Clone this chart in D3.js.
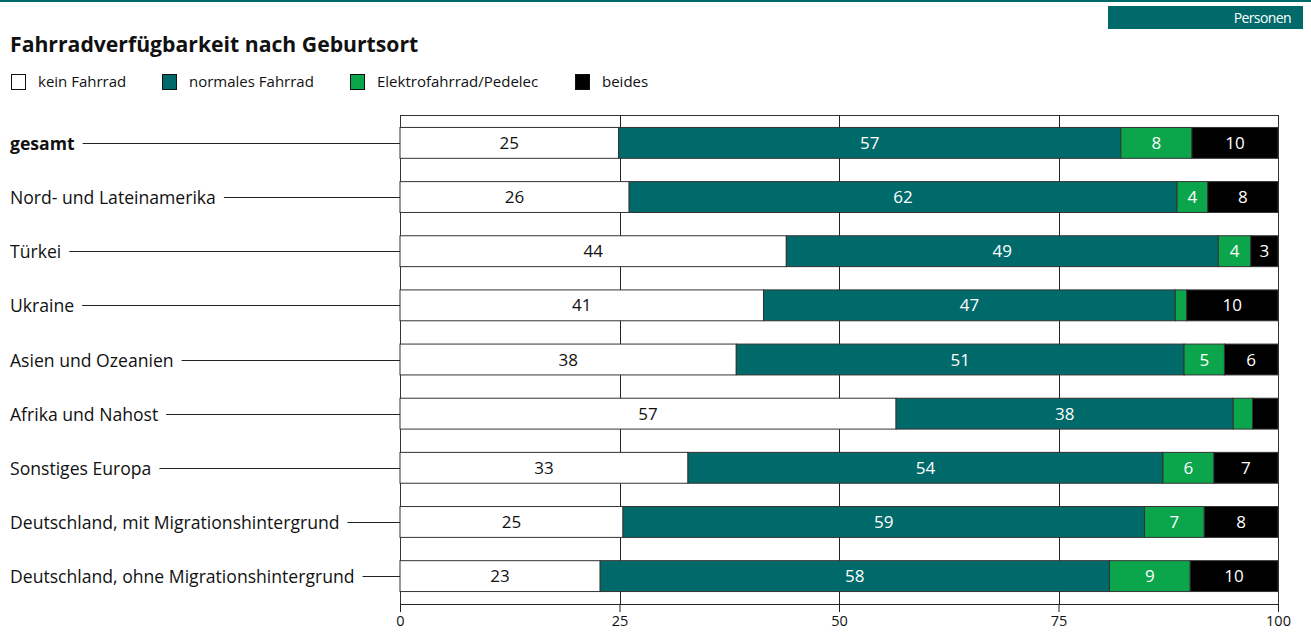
<!DOCTYPE html>
<html><head><meta charset="utf-8">
<script src="https://cdn.jsdelivr.net/npm/d3@7"></script>
<style>body{margin:0;background:#fff;}svg{display:block;font-family:"Open Sans",sans-serif;}</style>
</head><body>
<svg id="c" width="1311" height="634"></svg>
<script>
const categories = ["gesamt","Nord- und Lateinamerika","Türkei","Ukraine","Asien und Ozeanien","Afrika und Nahost","Sonstiges Europa","Deutschland, mit Migrationshintergrund","Deutschland, ohne Migrationshintergrund"];
const seriesNames = ["kein Fahrrad","normales Fahrrad","Elektrofahrrad/Pedelec","beides"];
const keinFahrrad = [24.9, 26.1, 44.0, 41.4, 38.3, 56.5, 32.8, 25.4, 22.8];
const normalesFahrrad = [57.2, 62.4, 49.2, 46.9, 51.0, 38.4, 54.1, 59.4, 58.0];
const elektro = [8.1, 3.5, 3.7, 1.3, 4.6, 2.2, 5.8, 6.8, 9.2];
const beides = [9.8, 8.0, 3.1, 10.4, 6.1, 2.9, 7.3, 8.4, 10.0];
const tickValues = [0, 25, 50, 75, 100];
const colors = ["#ffffff", "#006a6a", "#0ba64b", "#000000"];
const labelColors = ["#111", "#fff", "#fff", "#fff"];

const svg = d3.select("#c");
const W = 1311;
const series = [keinFahrrad, normalesFahrrad, elektro, beides];

// top rule and badge
svg.append("rect").attr("x",0).attr("y",0).attr("width",W).attr("height",2).attr("fill","#006a6a");
svg.append("rect").attr("x",1108).attr("y",6).attr("width",195).attr("height",23).attr("fill","#006a6a");
svg.append("text").attr("x",1291).attr("y",22.5).attr("text-anchor","end").attr("fill","#fff")
  .style("font-size","14px").style("letter-spacing","-0.6px").text("Personen");

svg.append("text").attr("x",10).attr("y",52).style("font-size","21.2px").style("font-weight","bold")
  .attr("fill","#111").text("Fahrradverfügbarkeit nach Geburtsort");

// legend
const legX = [11, 162, 350, 575];
seriesNames.forEach((n,i)=>{
  svg.append("rect").attr("x",legX[i]+0.5).attr("y",74.5).attr("width",14).attr("height",15)
    .attr("fill",colors[i]).attr("stroke","#111").attr("stroke-width",1);
  svg.append("text").attr("x",legX[i]+27).attr("y",87).style("font-size","15px").attr("fill","#111").text(n);
});

const x = d3.scaleLinear().domain([0,100]).range([400,1278]);
const y = d3.scaleBand().domain(categories).range([115,604]).paddingInner(0.43).paddingOuter(0.23);

const g = svg.append("g");
// frame
g.append("line").attr("x1",400).attr("x2",1278).attr("y1",115.5).attr("y2",115.5).attr("stroke","#333");
g.append("line").attr("x1",400.5).attr("x2",400.5).attr("y1",115).attr("y2",604).attr("stroke","#333");
g.append("line").attr("x1",1278.5).attr("x2",1278.5).attr("y1",115).attr("y2",604).attr("stroke","#333");
// grid
g.selectAll(".grid").data([25,50,75]).join("line")
  .attr("x1",d=>Math.round(x(d))+0.5).attr("x2",d=>Math.round(x(d))+0.5)
  .attr("y1",115).attr("y2",604).attr("stroke","#222");

// stacked bars
const rows = categories.map((c,i)=>{
  let acc=0; return series.map((s,k)=>{const v=s[i]; const seg={c,k,v,x0:acc,x1:acc+v}; acc+=v; return seg;});
});
rows.forEach(r=>{
  g.selectAll(null).data(r).join("rect")
    .attr("x",d=>x(d.x0)).attr("width",d=>x(d.x1)-x(d.x0))
    .attr("y",d=>y(d.c)).attr("height",y.bandwidth())
    .attr("fill",d=>colors[d.k]).attr("stroke","#333").attr("stroke-width",1);
  g.selectAll(null).data(r.filter(d=>d.v>=3)).join("text")
    .attr("x",d=>(x(d.x0)+x(d.x1))/2).attr("y",d=>y(d.c)+y.bandwidth()/2+6)
    .attr("text-anchor","middle").style("font-size","17px").attr("fill",d=>labelColors[d.k])
    .text(d=>Math.round(d.v));
});

// category labels and leaders
categories.forEach((c,i)=>{
  const cy = Math.round(y(c)+y.bandwidth()/2)+0.5;
  const t = svg.append("text").attr("x",10).attr("y",cy+6).style("font-size","17.6px")
    .style("font-weight", i===0?"bold":"normal").attr("fill","#111").text(c);
  const w = t.node().getComputedTextLength();
  svg.append("line").attr("x1",10+w+8).attr("x2",400).attr("y1",cy).attr("y2",cy).attr("stroke","#222");
});

// axis
const ax = svg.append("g").attr("transform","translate(0,604)")
  .call(d3.axisBottom(x).tickValues(tickValues).tickSize(8).tickPadding(4).tickFormat(d3.format("d")));
ax.select(".domain").attr("stroke","#222");
ax.selectAll("line").attr("stroke","#222");
ax.selectAll("text").style("font-size","14.5px").attr("fill","#111").style("font-family","'Open Sans',sans-serif");
</script>
</body></html>
